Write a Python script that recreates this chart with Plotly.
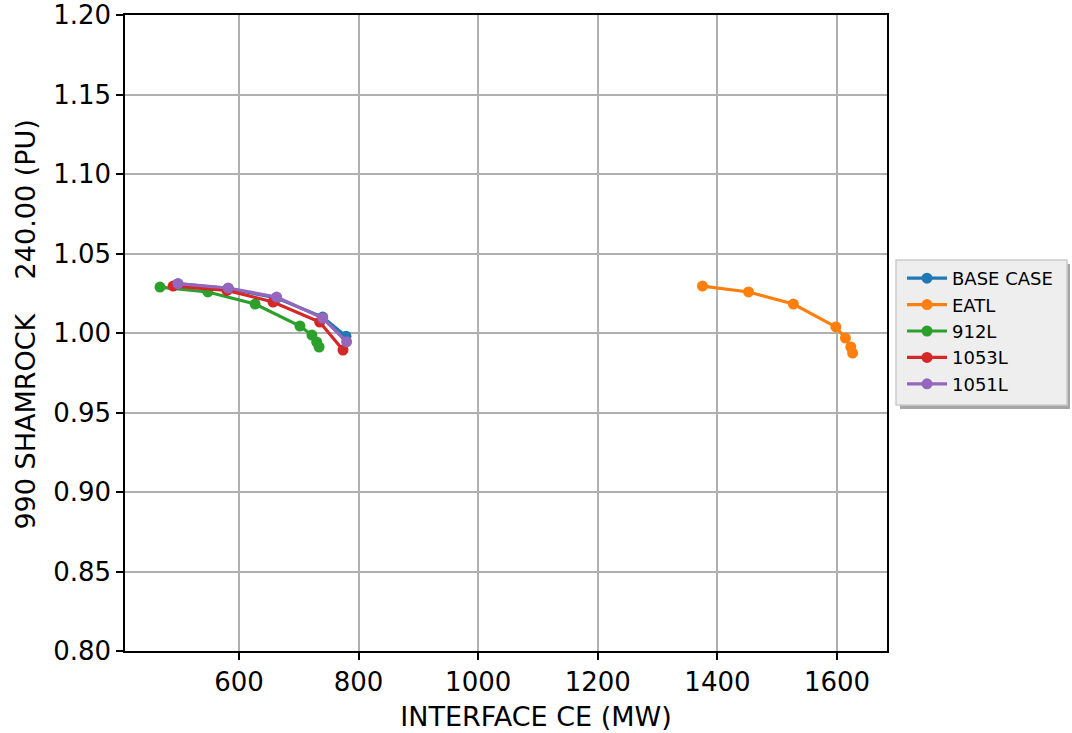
import plotly.graph_objects as go

series_names = ["BASE CASE", "EATL", "912L", "1053L", "1051L"]
colors = ["#1f77b4", "#ff7f0e", "#2ca02c", "#d62728", "#9467bd"]

base_x = [498, 582, 663, 740, 779]
base_y = [1.031, 1.028, 1.022, 1.010, 0.998]
eatl_x = [1375, 1452, 1527, 1598, 1614, 1623, 1626]
eatl_y = [1.0295, 1.0258, 1.0182, 1.0038, 0.9968, 0.9912, 0.9874]
l912_x = [468, 548, 627, 702, 722, 730, 734]
l912_y = [1.0289, 1.0258, 1.0182, 1.0044, 0.9987, 0.9943, 0.9912]
l1053_x = [490, 580, 657, 735, 774]
l1053_y = [1.0295, 1.0268, 1.0195, 1.0069, 0.9893]
l1051_x = [498, 582, 663, 740, 780]
l1051_y = [1.0310, 1.0283, 1.0226, 1.0094, 0.9945]

xs = [base_x, eatl_x, l912_x, l1053_x, l1051_x]
ys = [base_y, eatl_y, l912_y, l1053_y, l1051_y]

x_ticks = [600, 800, 1000, 1200, 1400, 1600]
y_ticks = [0.80, 0.85, 0.90, 0.95, 1.00, 1.05, 1.10, 1.15, 1.20]

fig = go.Figure()
for name, c, x, y in zip(series_names, colors, xs, ys):
    fig.add_trace(go.Scatter(x=x, y=y, name=name, mode="lines+markers",
                             line=dict(color=c, width=3.2),
                             marker=dict(color=c, size=11)))

W, H = 1072, 733
L, R, T, B = 125, 887, 15, 651
pw, ph = R - L, B - T

def px_x(p):
    return (p - L) / pw

def px_y(p):
    return (B - p) / ph

shapes = [
    dict(type="rect", xref="paper", yref="paper", layer="above",
         x0=px_x(900), x1=px_x(1070), y0=px_y(409), y1=px_y(264),
         fillcolor="#a6a6a6", line=dict(width=0)),
    dict(type="rect", xref="paper", yref="paper", layer="above",
         x0=px_x(896), x1=px_x(1067), y0=px_y(405), y1=px_y(260),
         fillcolor="#eeeeee", line=dict(color="#cccccc", width=1.5)),
]

axis_common = dict(showline=True, linecolor="black", linewidth=1.5, mirror=True,
                   ticks="outside", ticklen=7, tickwidth=1.5, tickcolor="black",
                   showgrid=True, gridcolor="#b0b0b0", gridwidth=1.5,
                   zeroline=False, automargin=False,
                   tickfont=dict(size=26, color="black"))

NB = "\u00a0"
ZW = "\u200b"
fig.update_layout(
    width=W, height=H,
    margin=dict(l=L, r=W - R, t=T, b=H - B),
    paper_bgcolor="white", plot_bgcolor="white",
    font=dict(family="DejaVu Sans", color="black"),
    showlegend=True,
    legend=dict(x=px_x(902), y=px_y(260), xanchor="left", yanchor="top",
                bgcolor="rgba(0,0,0,0)", borderwidth=0, itemwidth=40,
                font=dict(size=18, color="black"), tracegroupgap=0),
    shapes=shapes,
    xaxis=dict(range=[409.5, 1683.5], tickvals=x_ticks,
               ticktext=[str(v) for v in x_ticks],
               title=dict(text=ZW + NB * 7 + "INTERFACE CE (MW)", font=dict(size=27), standoff=11),
               **axis_common),
    yaxis=dict(range=[0.80, 1.20], tickvals=y_ticks,
               ticktext=["%.2f" % v for v in y_ticks],
               title=dict(text=ZW + NB * 2 + "990 SHAMROCK" + NB * 4 + "240.00 (PU)", font=dict(size=27), standoff=10),
               **axis_common),
)

fig.write_html("out.html", config={"displayModeBar": False},
               post_script="document.body.style.margin='0';document.body.style.padding='0';document.body.style.overflow='hidden';")
